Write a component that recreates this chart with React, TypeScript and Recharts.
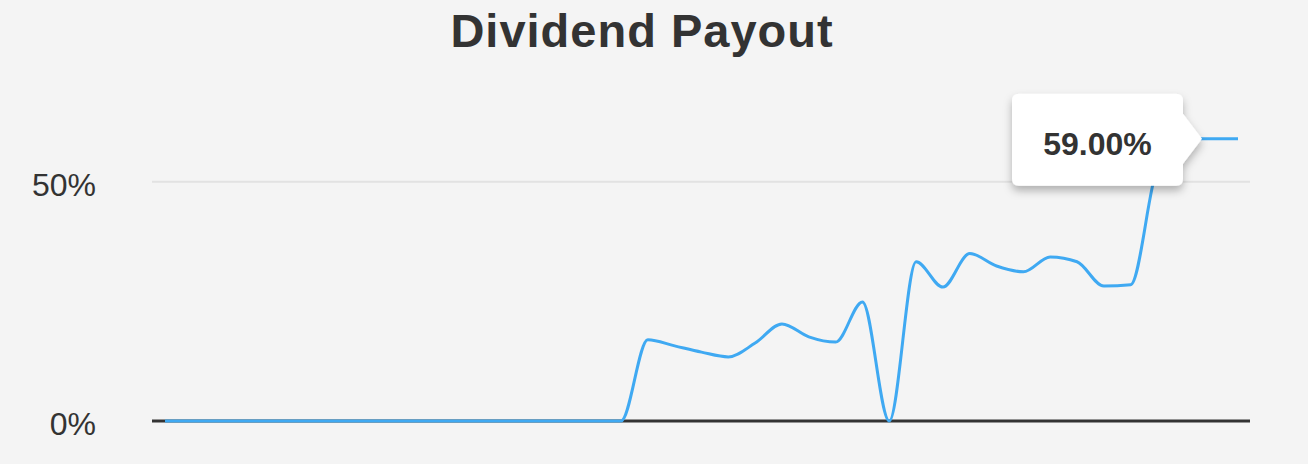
import { LabelList, Line, LineChart, ReferenceLine, XAxis, YAxis } from "recharts";

// payout ratio per period, in percent
const payout = [
  0, 0, 0, 0, 0, 0, 0, 0, 0, 0, 0, 0, 0, 0, 0, 0, 0, 0,
  17.0, 15.7, 14.4, 13.4, 16.3, 20.3, 17.6, 16.5, 24.9, 0,
  33.3, 28.0, 35.0, 32.4, 31.2, 34.3, 33.3, 28.2, 28.5, 53.0,
  59.0, 59.0, 59.0,
];
const periods = payout.map((_, i) => `P${i + 1}`);
const yTicks = [0, 50];
const calloutText = "59.00%";

const data = periods.map((period, i) => ({ period, payout: payout[i] }));

const FONT = '"Liberation Sans", Arial, Helvetica, sans-serif';
const lastIndex = payout.length - 1;

function Callout(props: any) {
  const { x, y, index } = props;
  if (index !== lastIndex) return null;
  // arrow tip sits on the flat part of the line, a bit left of the last point
  const tx = x - 36;
  const ty = y;
  const right = tx - 19;
  const left = tx - 190;
  const top = ty - 45;
  const bottom = ty + 47;
  const r = 7;
  const d = [
    `M ${left + r} ${top}`,
    `L ${right - r} ${top}`,
    `Q ${right} ${top} ${right} ${top + r}`,
    `L ${right} ${ty - 25}`,
    `L ${tx} ${ty}`,
    `L ${right} ${ty + 25}`,
    `L ${right} ${bottom - r}`,
    `Q ${right} ${bottom} ${right - r} ${bottom}`,
    `L ${left + r} ${bottom}`,
    `Q ${left} ${bottom} ${left} ${bottom - r}`,
    `L ${left} ${top + r}`,
    `Q ${left} ${top} ${left + r} ${top}`,
    "Z",
  ].join(" ");
  return (
    <g>
      <defs>
        <filter id="calloutShadow" x="-20%" y="-20%" width="140%" height="150%">
          <feDropShadow dx="0" dy="5" stdDeviation="4" floodColor="#000" floodOpacity="0.28" />
        </filter>
      </defs>
      <path d={d} fill="#ffffff" filter="url(#calloutShadow)" />
      <text
        x={(left + right) / 2}
        y={ty + 16}
        textAnchor="middle"
        fontFamily={FONT}
        fontWeight="bold"
        fontSize={32}
        fill="#333333"
      >
        {calloutText}
      </text>
    </g>
  );
}

export default function App() {
  return (
    <div
      style={{
        position: "absolute",
        left: 0,
        top: 0,
        width: 1308,
        height: 464,
        background: "#f4f4f4",
        fontFamily: FONT,
      }}
    >
      <div
        style={{
          position: "absolute",
          top: 8,
          left: 0,
          width: 1284,
          textAlign: "center",
          fontSize: 47,
          lineHeight: "46px",
          fontWeight: "bold",
          letterSpacing: 1,
          color: "#333333",
        }}
      >
        Dividend Payout
      </div>
      <LineChart
        width={1308}
        height={464}
        data={data}
        margin={{ top: 134, right: 58, bottom: 43, left: 0 }}
      >
        <XAxis dataKey="period" hide padding={{ left: 13, right: 12 }} />
        <YAxis
          width={152}
          domain={[0, 60]}
          ticks={yTicks}
          axisLine={false}
          tickLine={false}
          tickMargin={50}
          tickFormatter={(v) => `${v}%`}
          tick={{ fill: "#333333", fontSize: 32, fontFamily: FONT, dy: 3 }}
        />
        <ReferenceLine y={50} stroke="#e2e2e2" strokeWidth={2} />
        <ReferenceLine y={0} stroke="#333333" strokeWidth={3} />
        <Line
          type="monotone"
          dataKey="payout"
          stroke="#3fa9f2"
          strokeWidth={3}
          dot={false}
          activeDot={false}
          isAnimationActive={false}
        >
          <LabelList dataKey="payout" content={Callout} />
        </Line>
      </LineChart>
    </div>
  );
}
